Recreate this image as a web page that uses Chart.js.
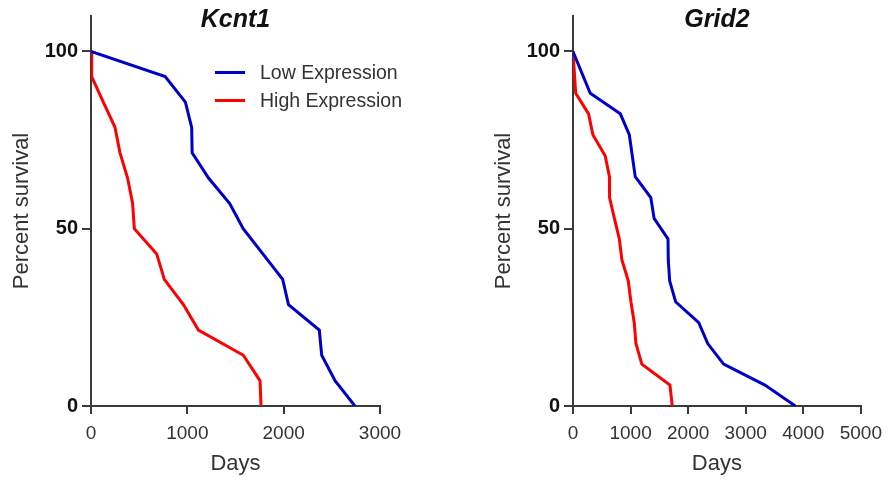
<!DOCTYPE html>
<html>
<head>
<meta charset="utf-8">
<script src="https://cdn.jsdelivr.net/npm/chart.js@4.4.1/dist/chart.umd.min.js"></script>
<style>
  body { margin: 0; background: #fff; width: 890px; height: 481px; overflow: hidden; position: relative; font-family: "Liberation Sans", Arial, sans-serif; }
  .box { position: absolute; top: 0; height: 481px; }
  .legend { position: absolute; left: 215px; top: 58px; color: #333; font-size: 19.5px; }
  .legend div { height: 28px; line-height: 28px; white-space: nowrap; }
  .legend span { display: inline-block; width: 30px; height: 3px; vertical-align: middle; margin-right: 15px; position: relative; top: -1px; }
</style>
</head>
<body>
<div class="box" style="left:0;width:445px"><canvas id="kcnt1"></canvas></div>
<div class="box" style="left:482px;width:408px"><canvas id="grid2"></canvas></div>
<div class="legend">
  <div><span style="background:#0000cc"></span>Low Expression</div>
  <div><span style="background:#ff0000"></span>High Expression</div>
</div>
<script>
// Kcnt1 survival curves (days, percent survival)
const kcnt1LowDays = [0, 770, 980, 1045, 1050, 1220, 1440, 1580, 1990, 2050, 2370, 2395, 2535, 2740];
const kcnt1LowPct = [100, 92.9, 85.7, 78.6, 71.4, 64.3, 57.1, 50, 35.7, 28.6, 21.4, 14.3, 7.1, 0];
const kcnt1HighDays = [0, 7, 128, 249, 301, 380, 432, 450, 682, 761, 959, 1115, 1582, 1755, 1765];
const kcnt1HighPct = [100, 92.9, 85.7, 78.6, 71.4, 64.3, 57.1, 50, 42.9, 35.7, 28.6, 21.4, 14.3, 7.1, 0];

// Grid2 survival curves
const grid2LowDays = [0, 300, 822, 978, 1081, 1351, 1409, 1650, 1655, 1679, 1782, 2184, 2340, 2616, 3334, 3862];
const grid2LowPct = [100, 88.2, 82.4, 76.5, 64.7, 58.8, 52.9, 47.1, 41.2, 35.3, 29.4, 23.5, 17.6, 11.8, 5.9, 0];
const grid2HighDays = [0, 47, 271, 345, 559, 633, 635, 719, 805, 850, 960, 1006, 1064, 1093, 1196, 1684, 1724];
const grid2HighPct = [100, 88.2, 82.4, 76.5, 70.6, 64.7, 58.8, 52.9, 47.1, 41.2, 35.3, 29.4, 23.5, 17.6, 11.8, 5.9, 0];

const yTicks = [0, 50, 100];
const axisColor = "#3a3a3a";
const FONT = "'Liberation Sans', Arial, sans-serif";

const toPoints = (xs, ys) => xs.map((x, i) => ({ x: x, y: ys[i] }));

// draws the italic title over the plot area
const titlePlugin = {
  id: "plotTitle",
  afterDraw(chart, args, opts) {
    const { ctx, chartArea } = chart;
    ctx.save();
    ctx.font = "italic bold 25px " + FONT;
    ctx.fillStyle = "#111";
    ctx.textAlign = "center";
    ctx.textBaseline = "middle";
    ctx.fillText(opts.text, (chartArea.left + chartArea.right) / 2, 20);
    ctx.restore();
  },
};

function makeChart(id, title, xMax, low, high, padRight) {
  return new Chart(document.getElementById(id), {
    type: "line",
    data: {
      datasets: [
        { label: "Low Expression", data: low, borderColor: "#0000cc", borderWidth: 3 },
        { label: "High Expression", data: high, borderColor: "#ff0000", borderWidth: 3 },
      ],
    },
    options: {
      responsive: true,
      maintainAspectRatio: false,
      animation: false,
      layout: { padding: { left: 0, top: 8, right: padRight, bottom: 0 } },
      elements: { point: { radius: 0 }, line: { tension: 0 } },
      plugins: {
        legend: { display: false },
        tooltip: { enabled: false },
        plotTitle: { text: title },
      },
      scales: {
        x: {
          type: "linear",
          min: 0,
          max: xMax,
          ticks: { stepSize: 1000, color: "#333", font: { family: FONT, size: 19 }, padding: 8, maxRotation: 0, callback: (v) => String(v) },
          grid: { drawOnChartArea: false, drawTicks: true, tickLength: 8, color: axisColor, lineWidth: 2 },
          border: { display: true, color: axisColor, width: 2 },
          title: { display: true, text: "Days", color: "#333", font: { family: FONT, size: 22 }, padding: { top: 0, bottom: 4 } },
          afterFit(scale) { scale.height = 75; },
        },
        y: {
          min: 0,
          max: 110,
          afterBuildTicks(scale) { scale.ticks = yTicks.map((v) => ({ value: v })); },
          ticks: { color: "#111", font: { family: FONT, size: 20, weight: "bold" }, padding: 4, callback: (v) => String(v) },
          grid: { drawOnChartArea: false, drawTicks: true, tickLength: 9, color: axisColor, lineWidth: 2 },
          border: { display: true, color: axisColor, width: 2 },
          title: { display: true, text: "Percent survival", color: "#333", font: { family: FONT, size: 22 }, padding: { top: 9, bottom: 0 } },
          afterFit(scale) { scale.width = 91; },
        },
      },
    },
    plugins: [titlePlugin],
  });
}

makeChart("kcnt1", "Kcnt1", 3000, toPoints(kcnt1LowDays, kcnt1LowPct), toPoints(kcnt1HighDays, kcnt1HighPct), 65);
makeChart("grid2", "Grid2", 5000, toPoints(grid2LowDays, grid2LowPct), toPoints(grid2HighDays, grid2HighPct), 27);
</script>
</body>
</html>
